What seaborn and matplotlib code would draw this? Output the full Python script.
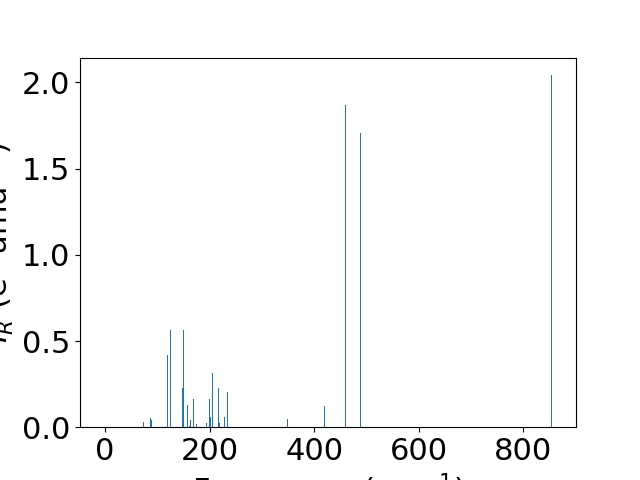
import matplotlib
matplotlib.use("Agg")
import matplotlib.pyplot as plt
import seaborn as sns
import pandas as pd

# Mode frequencies (cm^-1) and IR intensities (e^2 amu^-1)
frequencies = [72.9, 86.3, 88.2, 118.8, 124.5, 147.5, 149.4, 157.1, 160.9, 162.8,
               168.5, 174.3, 193.4, 199.2, 201.1, 204.9, 216.4, 218.3, 227.9, 233.6,
               348.4, 419.2, 459.3, 488.0, 853.5, 854.8]
intensities = [0.028, 0.053, 0.042, 0.418, 0.563, 0.227, 0.563, 0.129, 0.007, 0.042,
               0.163, 0.019, 0.024, 0.163, 0.059, 0.314, 0.227, 0.024, 0.059, 0.204,
               0.047, 0.123, 1.868, 1.706, 2.042, 0.010]
x_ticks = [0, 200, 400, 600, 800]
y_ticks = [0.0, 0.5, 1.0, 1.5, 2.0]

df = pd.DataFrame({"freq": frequencies, "ir": intensities})

fig, ax = plt.subplots(figsize=(6.4, 4.8), dpi=100)
sns.barplot(data=df, x="freq", y="ir", native_scale=True, width=1.5,
            color="#1f77b4", saturation=1, errorbar=None, ax=ax)

ax.set_xlim(-48, 901)
ax.set_ylim(0, 2.144)
ax.set_xticks(x_ticks)
ax.set_xticklabels([str(t) for t in x_ticks])
ax.set_yticks(y_ticks)
ax.set_yticklabels([f"{t:.1f}" for t in y_ticks])
ax.tick_params(labelsize=22)
ax.set_xlabel("Frequency (cm$^{-1}$)", fontsize=22)
ax.set_ylabel("$I_R$ (e$^2$ amu$^{-1}$)", fontsize=22)

fig.savefig("out.png", dpi=100)
